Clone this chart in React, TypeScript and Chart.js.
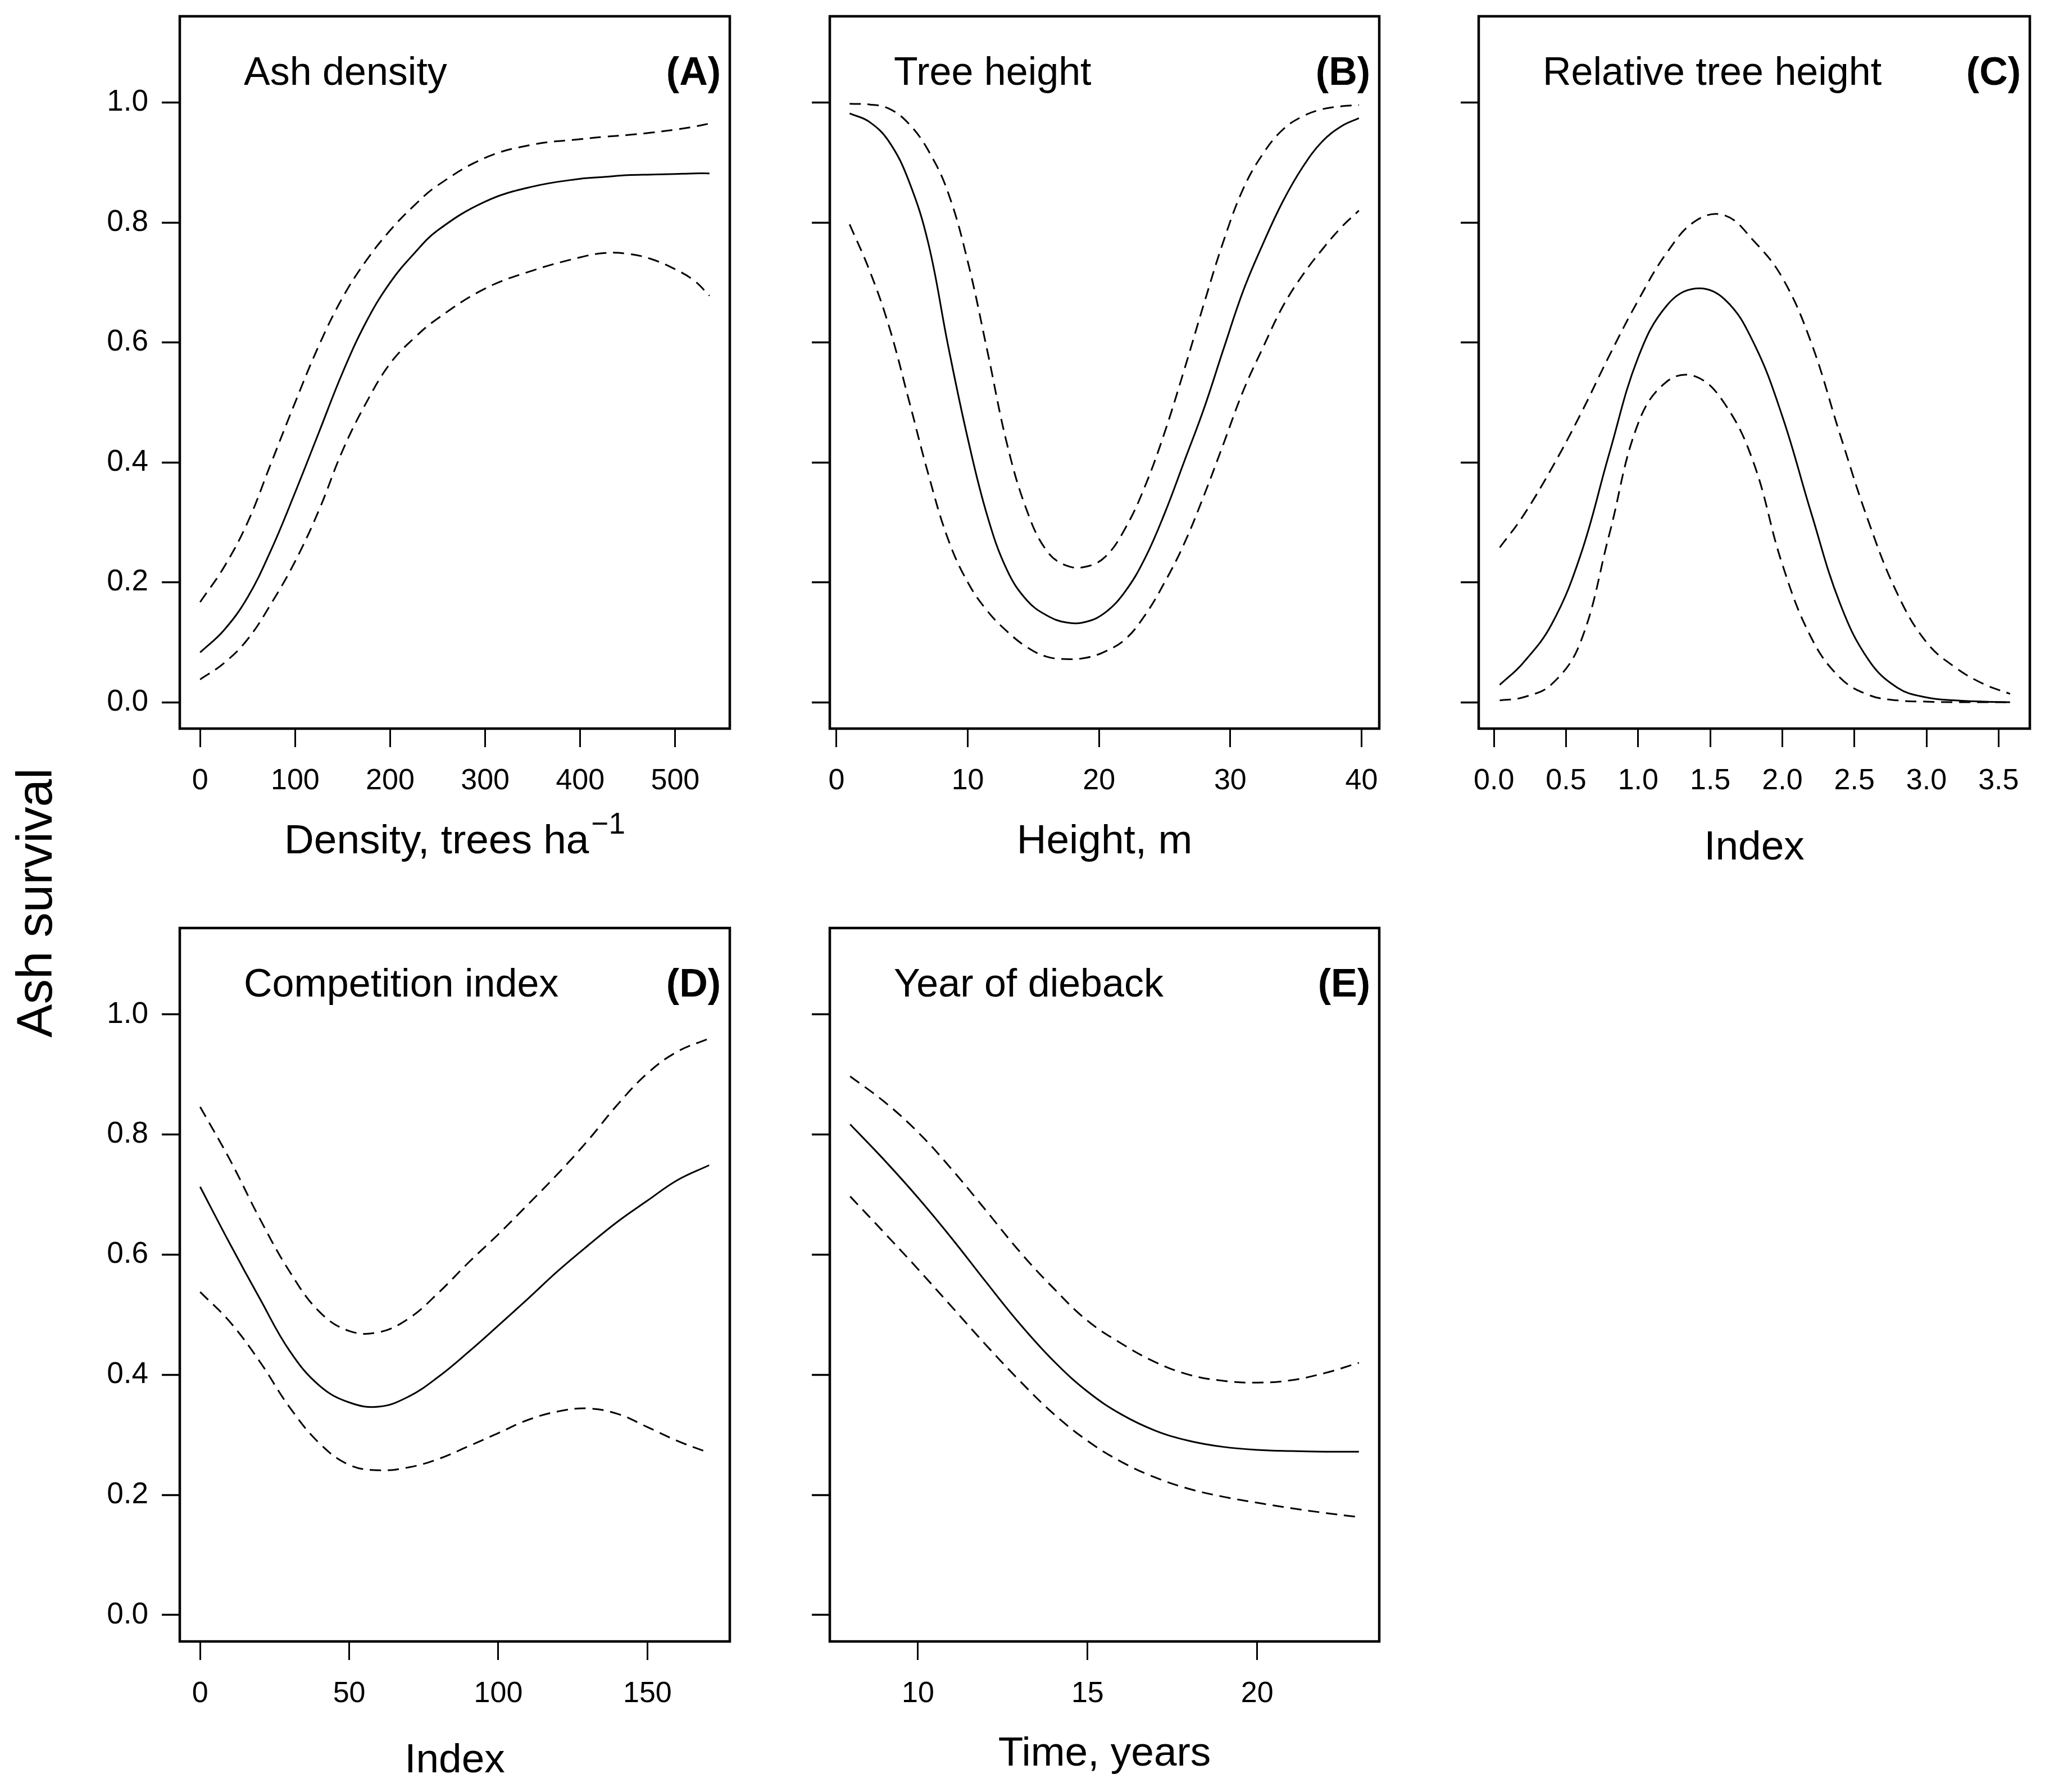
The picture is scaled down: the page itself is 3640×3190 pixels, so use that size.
import React, { useEffect, useRef } from 'react';
import { Chart, registerables } from 'chart.js';

Chart.register(...registerables);

const FONT = '"Liberation Sans", Arial, Helvetica, sans-serif';

// ---------- shared y axis ----------
const Y_TICKS = [0, 0.2, 0.4, 0.6, 0.8, 1.0];
const Y_MIN = -0.044;
const Y_MAX = 1.144;
const Y_TITLE = 'Ash survival';

// ---------- (A) Ash density ----------
const A_X = [0, 25, 50, 75, 100, 125, 150, 175, 200, 225, 250, 300, 350, 400, 425, 450, 475, 500, 520, 536];
const A_FIT = [0.083, 0.12, 0.175, 0.255, 0.35, 0.45, 0.55, 0.635, 0.7, 0.748, 0.787, 0.835, 0.86, 0.873, 0.876, 0.879, 0.88, 0.881, 0.882, 0.882];
const A_UPR = [0.167, 0.225, 0.3, 0.4, 0.5, 0.595, 0.675, 0.737, 0.787, 0.828, 0.862, 0.908, 0.93, 0.939, 0.943, 0.946, 0.95, 0.955, 0.96, 0.965];
const A_LWR = [0.038, 0.065, 0.105, 0.165, 0.235, 0.32, 0.42, 0.5, 0.565, 0.607, 0.64, 0.69, 0.72, 0.742, 0.749, 0.748, 0.739, 0.722, 0.703, 0.678];
const A_TICKS = [0, 100, 200, 300, 400, 500];

// ---------- (B) Tree height ----------
const B_X = [1, 2.5, 4, 5.5, 7, 8.5, 10, 11.5, 13, 14.5, 16, 17.5, 19, 20.5, 22, 23.5, 25, 26.5, 28, 29.5, 31, 32.5, 34, 35.5, 37, 38.5, 39.8];
const B_FIT = [0.982, 0.968, 0.935, 0.87, 0.765, 0.595, 0.44, 0.31, 0.22, 0.17, 0.145, 0.133, 0.134, 0.15, 0.185, 0.24, 0.315, 0.402, 0.49, 0.59, 0.687, 0.765, 0.835, 0.892, 0.935, 0.961, 0.974];
const B_UPR = [0.998, 0.997, 0.99, 0.965, 0.92, 0.85, 0.735, 0.585, 0.43, 0.32, 0.253, 0.228, 0.226, 0.243, 0.29, 0.36, 0.45, 0.555, 0.665, 0.77, 0.857, 0.915, 0.955, 0.977, 0.989, 0.994, 0.996];
const B_LWR = [0.797, 0.721, 0.627, 0.505, 0.38, 0.272, 0.2, 0.152, 0.118, 0.092, 0.076, 0.072, 0.074, 0.085, 0.105, 0.145, 0.2, 0.265, 0.345, 0.432, 0.52, 0.592, 0.66, 0.712, 0.755, 0.793, 0.82];
const B_TICKS = [0, 10, 20, 30, 40];

// ---------- (C) Relative tree height ----------
const C_X = [0.04, 0.2, 0.4, 0.6, 0.8, 1.0, 1.2, 1.4, 1.6, 1.8, 2.0, 2.2, 2.4, 2.6, 2.8, 3.0, 3.2, 3.4, 3.58];
const C_FIT = [0.029, 0.065, 0.13, 0.245, 0.415, 0.575, 0.662, 0.69, 0.672, 0.6, 0.477, 0.316, 0.165, 0.07, 0.024, 0.008, 0.003, 0.001, 0.0];
const C_UPR = [0.258, 0.31, 0.39, 0.48, 0.578, 0.67, 0.75, 0.803, 0.812, 0.77, 0.708, 0.6, 0.447, 0.3, 0.18, 0.1, 0.058, 0.03, 0.014];
const C_LWR = [0.003, 0.008, 0.03, 0.1, 0.28, 0.465, 0.535, 0.543, 0.498, 0.4, 0.23, 0.108, 0.041, 0.012, 0.003, 0.001, 0.0, 0.0, 0.0];
const C_TICKS = [0, 0.5, 1.0, 1.5, 2.0, 2.5, 3.0, 3.5];

// ---------- (D) Competition index ----------
const D_X = [0, 10, 20, 30, 40, 50, 60, 70, 80, 90, 100, 110, 120, 130, 140, 150, 160, 170.7];
const D_FIT = [0.713, 0.618, 0.527, 0.44, 0.382, 0.354, 0.347, 0.364, 0.397, 0.438, 0.482, 0.527, 0.573, 0.615, 0.655, 0.69, 0.724, 0.749];
const D_UPR = [0.846, 0.758, 0.66, 0.572, 0.505, 0.473, 0.471, 0.494, 0.537, 0.587, 0.634, 0.684, 0.735, 0.79, 0.85, 0.902, 0.938, 0.96];
const D_LWR = [0.538, 0.488, 0.422, 0.346, 0.286, 0.25, 0.241, 0.246, 0.26, 0.281, 0.303, 0.325, 0.339, 0.344, 0.335, 0.313, 0.29, 0.27];
const D_TICKS = [0, 50, 100, 150];

// ---------- (E) Year of dieback ----------
const E_X = [8, 9, 10, 11, 12, 13, 14, 15, 16, 17, 18, 19, 20, 21, 22, 23];
const E_FIT = [0.817, 0.758, 0.695, 0.627, 0.555, 0.485, 0.423, 0.372, 0.334, 0.307, 0.29, 0.28, 0.275, 0.273, 0.272, 0.272];
const E_UPR = [0.897, 0.855, 0.804, 0.742, 0.674, 0.605, 0.544, 0.49, 0.452, 0.421, 0.4, 0.39, 0.387, 0.391, 0.403, 0.42];
const E_LWR = [0.697, 0.637, 0.576, 0.513, 0.45, 0.39, 0.335, 0.29, 0.255, 0.229, 0.21, 0.197, 0.187, 0.178, 0.17, 0.163];
const E_TICKS = [10, 15, 20];

// ---------- layout (pixels) ----------
const Y_AXIS_W = 320;
const X_AXIS_H = 260;
const PAD_TOP = 20;
const PAD_RIGHT = 20;

type PanelDef = {
  title: string;
  tag: string;
  xTitle: string;
  xSup?: string;
  x: number[];
  fit: number[];
  upr: number[];
  lwr: number[];
  xTicks: number[];
  xMin: number;
  xMax: number;
  xDec: number;
  showY: boolean;
  left: number;
  top: number;
  w: number;
  h: number;
  xTitlePad: number;
};

const PANELS: PanelDef[] = [
  { title: 'Ash density', tag: '(A)', xTitle: 'Density, trees ha', xSup: '\u22121', x: A_X, fit: A_FIT, upr: A_UPR, lwr: A_LWR, xTicks: A_TICKS, xMin: -21.4, xMax: 557.4, xDec: 0, showY: true, left: 320, top: 29, w: 979, h: 1268, xTitlePad: 14 },
  { title: 'Tree height', tag: '(B)', xTitle: 'Height, m', x: B_X, fit: B_FIT, upr: B_UPR, lwr: B_LWR, xTicks: B_TICKS, xMin: -0.51, xMax: 41.35, xDec: 0, showY: false, left: 1477, top: 29, w: 978, h: 1268, xTitlePad: 14 },
  { title: 'Relative tree height', tag: '(C)', xTitle: 'Index', x: C_X, fit: C_FIT, upr: C_UPR, lwr: C_LWR, xTicks: C_TICKS, xMin: -0.106, xMax: 3.717, xDec: 1, showY: false, left: 2632, top: 29, w: 981, h: 1268, xTitlePad: 3 },
  { title: 'Competition index', tag: '(D)', xTitle: 'Index', x: D_X, fit: D_FIT, upr: D_UPR, lwr: D_LWR, xTicks: D_TICKS, xMin: -6.83, xMax: 177.63, xDec: 0, showY: true, left: 320, top: 1652, w: 979, h: 1270, xTitlePad: 3 },
  { title: 'Year of dieback', tag: '(E)', xTitle: 'Time, years', x: E_X, fit: E_FIT, upr: E_UPR, lwr: E_LWR, xTicks: E_TICKS, xMin: 7.4, xMax: 23.6, xDec: 0, showY: false, left: 1477, top: 1652, w: 978, h: 1270, xTitlePad: 15 },
];

const TITLE_SIZE = 73;

function series(xs: number[], ys: number[], dashed: boolean) {
  return {
    data: xs.map((x, i) => ({ x, y: ys[i] })),
    borderColor: '#000',
    borderWidth: 3,
    borderDash: dashed ? [20, 12] : [],
    pointRadius: 0,
    fill: false,
    tension: 0.4,
  };
}

function Panel({ p }: { p: PanelDef }) {
  const ref = useRef<HTMLCanvasElement>(null);
  const cw = p.w + Y_AXIS_W + PAD_RIGHT;
  const ch = p.h + PAD_TOP + X_AXIS_H;

  useEffect(() => {
    const canvas = ref.current;
    if (!canvas) return;
    const framePlugin = {
      id: 'frameAndTitle',
      afterDraw(chart: any) {
        const { ctx, chartArea: a } = chart;
        ctx.save();
        ctx.strokeStyle = '#000';
        ctx.lineWidth = 4.5;
        ctx.setLineDash([]);
        ctx.strokeRect(a.left, a.top, a.right - a.left, a.bottom - a.top);
        ctx.fillStyle = '#000';
        ctx.textBaseline = 'alphabetic';
        ctx.font = `70px ${FONT}`;
        ctx.textAlign = 'left';
        ctx.fillText(p.title, a.left + 114, a.top + 122);
        ctx.font = `bold 70px ${FONT}`;
        ctx.textAlign = 'right';
        ctx.fillText(p.tag, a.right - 16, a.top + 122);
        if (p.xSup) {
          // axis title with a superscript, centred under the plot area
          const cx = (a.left + a.right) / 2;
          const lh = TITLE_SIZE * 1.2;
          const mid = chart.height - p.xTitlePad - lh / 2;
          ctx.font = `${TITLE_SIZE}px ${FONT}`;
          const w1 = ctx.measureText(p.xTitle).width;
          ctx.font = `${Math.round(TITLE_SIZE * 0.72)}px ${FONT}`;
          const w2 = ctx.measureText(p.xSup).width;
          const x0 = cx - (w1 + w2 + 4) / 2;
          ctx.textAlign = 'left';
          ctx.textBaseline = 'middle';
          ctx.font = `${TITLE_SIZE}px ${FONT}`;
          ctx.fillText(p.xTitle, x0, mid);
          ctx.font = `${Math.round(TITLE_SIZE * 0.72)}px ${FONT}`;
          ctx.fillText(p.xSup, x0 + w1 + 4, mid - 30);
        }
        ctx.restore();
      },
    };
    const chart = new Chart(canvas, {
      type: 'line',
      data: {
        datasets: [series(p.x, p.upr, true), series(p.x, p.fit, false), series(p.x, p.lwr, true)] as any,
      },
      options: {
        responsive: false,
        animation: false,
        devicePixelRatio: 1,
        events: [],
        layout: { padding: { top: PAD_TOP, right: PAD_RIGHT, left: 0, bottom: 0 } },
        plugins: {
          legend: { display: false },
          tooltip: { enabled: false },
          title: { display: false },
        },
        scales: {
          x: {
            type: 'linear',
            position: 'bottom',
            min: p.xMin,
            max: p.xMax,
            afterBuildTicks: (s: any) => {
              s.ticks = p.xTicks.map((v) => ({ value: v }));
            },
            afterFit: (s: any) => {
              s.height = X_AXIS_H;
              s.paddingLeft = 0;
              s.paddingRight = 0;
              s.paddingTop = 0;
              s.paddingBottom = 0;
            },
            border: { display: false },
            grid: { drawOnChartArea: false, drawTicks: true, tickLength: 33, tickWidth: 3, tickColor: '#000' },
            ticks: {
              color: '#000',
              font: { family: FONT, size: 52 },
              padding: 29,
              maxRotation: 0,
              autoSkip: false,
              callback: (v: any) => Number(v).toFixed(p.xDec),
            },
            title: {
              display: !p.xSup,
              text: p.xTitle,
              color: '#000',
              font: { family: FONT, size: TITLE_SIZE },
              padding: { top: 0, bottom: p.xTitlePad },
            },
          },
          y: {
            type: 'linear',
            position: 'left',
            min: Y_MIN,
            max: Y_MAX,
            afterBuildTicks: (s: any) => {
              s.ticks = Y_TICKS.map((v) => ({ value: v }));
            },
            afterFit: (s: any) => {
              s.width = Y_AXIS_W;
              s.paddingLeft = 0;
              s.paddingRight = 0;
              s.paddingTop = 0;
              s.paddingBottom = 0;
            },
            border: { display: false },
            grid: { drawOnChartArea: false, drawTicks: true, tickLength: 32, tickWidth: 3.5, tickColor: '#000' },
            ticks: {
              display: p.showY,
              color: '#000',
              font: { family: FONT, size: 53 },
              padding: 24,
              autoSkip: false,
              callback: (v: any) => Number(v).toFixed(1),
            },
          },
        },
      } as any,
      plugins: [framePlugin],
    });
    return () => chart.destroy();
  }, [p]);

  return (
    <canvas
      ref={ref}
      width={cw}
      height={ch}
      style={{
        position: 'absolute',
        left: p.left - Y_AXIS_W,
        top: p.top - PAD_TOP,
        width: cw,
        height: ch,
      }}
    />
  );
}

export default function App() {
  return (
    <div style={{ position: 'absolute', left: 0, top: 0, width: 3640, height: 3190, background: '#fff', overflow: 'hidden' }}>
      {PANELS.map((p, i) => (
        <Panel key={i} p={p} />
      ))}
      <div
        style={{
          position: 'absolute',
          left: 61 - 350,
          top: 1607 - 50,
          width: 700,
          height: 100,
          lineHeight: '100px',
          textAlign: 'center',
          fontFamily: FONT,
          fontSize: 89,
          color: '#000',
          whiteSpace: 'nowrap',
          transform: 'rotate(-90deg)',
        }}
      >
        {Y_TITLE}
      </div>
    </div>
  );
}
